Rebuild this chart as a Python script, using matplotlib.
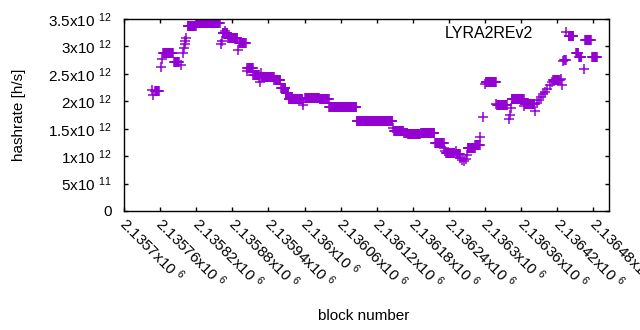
import numpy as np
import matplotlib
matplotlib.use("Agg")
import matplotlib.pyplot as plt

plt.rcParams['font.family'] = ['Liberation Sans', 'DejaVu Sans']
plt.rcParams['mathtext.fontset'] = 'custom'
plt.rcParams['mathtext.rm'] = 'Liberation Sans'
plt.rcParams['mathtext.it'] = 'Liberation Sans:italic'
plt.rcParams['mathtext.bf'] = 'Liberation Sans:bold'

# Run-length encoded data: first block of run, number of blocks, hashrate (x1e12 h/s)
run_start = [2135746, 2135749, 2135752, 2135761, 2135763, 2135765, 2135783, 2135794,
             2135798, 2135799, 2135801, 2135802, 2135803, 2135806, 2135820, 2135861,
             2135863, 2135864, 2135868, 2135869, 2135873, 2135889, 2135891, 2135904,
             2135905, 2135915, 2135925, 2135926, 2135927, 2135929, 2135950, 2135961,
             2135969, 2135974, 2135997, 2135998, 2136001, 2136025, 2136041, 2136087,
             2136147, 2136149, 2136166, 2136172, 2136194, 2136217, 2136232, 2136234,
             2136235, 2136251, 2136252, 2136259, 2136262, 2136265, 2136268, 2136270,
             2136271, 2136284, 2136292, 2136297, 2136300, 2136301, 2136319, 2136320,
             2136339, 2136341, 2136343, 2136344, 2136365, 2136366, 2136383, 2136386,
             2136389, 2136393, 2136396, 2136399, 2136403, 2136408, 2136411, 2136413,
             2136427, 2136428, 2136429, 2136432, 2136435, 2136439, 2136451, 2136456,
             2136464, 2136466, 2136478]
run_len = [1, 1, 7, 1, 1, 17, 9, 1,
           1, 1, 1, 1, 1, 14, 40, 1,
           1, 4, 1, 4, 16, 1, 12, 1,
           10, 10, 1, 1, 1, 21, 11, 8,
           5, 23, 1, 1, 24, 16, 46, 60,
           1, 16, 6, 21, 23, 15, 1, 1,
           15, 1, 7, 1, 1, 1, 1, 1,
           13, 8, 1, 1, 1, 18, 1, 17,
           1, 1, 1, 21, 1, 17, 1, 1,
           1, 1, 1, 1, 1, 1, 1, 12,
           1, 1, 1, 3, 1, 9, 5, 5,
           1, 11, 9]
run_rate = [2.21, 2.12, 2.19, 2.62, 2.77, 2.88, 2.72, 2.66,
            2.88, 2.97, 3.04, 3.10, 3.15, 3.37, 3.43, 3.04,
            3.10, 3.24, 3.28, 3.24, 3.15, 2.94, 3.06, 2.55,
            2.60, 2.48, 2.42, 2.35, 2.52, 2.45, 2.38, 2.24,
            2.16, 2.05, 1.93, 1.99, 2.065, 2.04, 1.89, 1.64,
            1.51, 1.46, 1.43, 1.40, 1.43, 1.245, 1.14, 1.09,
            1.06, 1.10, 1.04, 0.97, 0.93, 0.91, 0.95, 1.02,
            1.15, 1.20, 1.355, 1.71, 2.32, 2.35, 1.95, 1.93,
            1.68, 1.75, 1.88, 2.04, 1.92, 1.95, 1.82, 1.97,
            2.02, 2.08, 2.13, 2.17, 2.22, 2.30, 2.35, 2.39,
            2.41, 2.30, 2.73, 2.75, 3.27, 3.19, 2.875, 2.80,
            2.59, 3.12, 2.80]

xtick_values = [2135700, 2135760, 2135820, 2135880, 2135940, 2136000, 2136060,
                2136120, 2136180, 2136240, 2136300, 2136360, 2136420, 2136480]
xtick_labels = ["2.1357x10 $^{6}$", "2.13576x10 $^{6}$", "2.13582x10 $^{6}$", "2.13588x10 $^{6}$",
                "2.13594x10 $^{6}$", "2.136x10 $^{6}$", "2.13606x10 $^{6}$", "2.13612x10 $^{6}$",
                "2.13618x10 $^{6}$", "2.13624x10 $^{6}$", "2.1363x10 $^{6}$", "2.13636x10 $^{6}$",
                "2.13642x10 $^{6}$", "2.13648x10 $^{6}$"]
ytick_values = [0, 0.5e12, 1e12, 1.5e12, 2e12, 2.5e12, 3e12, 3.5e12]
ytick_labels = ["0", "5x10 $^{11}$", "1x10 $^{12}$", "1.5x10 $^{12}$", "2x10 $^{12}$",
                "2.5x10 $^{12}$", "3x10 $^{12}$", "3.5x10 $^{12}$"]

blocks = np.concatenate([np.arange(s, s + n) for s, n in zip(run_start, run_len)])
rates = np.concatenate([np.full(n, r * 1e12) for n, r in zip(run_len, run_rate)])

fig = plt.figure(figsize=(6.4, 3.3), dpi=100)
ax = fig.add_axes([124/640, 1 - 211/330, (609-124)/640, (211-19)/330])

color = '#9400D3'
ax.plot(blocks, rates, linestyle='none', marker='+', color=color,
        markersize=6.5, markeredgewidth=1.1)

ax.set_xlim(2135700, 2136506)
ax.set_ylim(0, 3.5e12)

ax.set_xticks(xtick_values)
ax.set_xticklabels(xtick_labels, rotation=-45, ha='left', va='center_baseline',
                   rotation_mode='anchor', fontsize=11)
ax.set_yticks(ytick_values)
ax.set_yticklabels(ytick_labels, fontsize=11)

ax.tick_params(direction='in', length=3, width=1, top=True, right=True,
               colors='black')
ax.tick_params(axis='x', pad=6)
ax.tick_params(axis='y', pad=9)
for sp in ax.spines.values():
    sp.set_linewidth(1)

ax.set_xlabel('block number', fontsize=11)
ax.set_ylabel('hashrate [h/s]', fontsize=11)
ax.xaxis.set_label_coords(0.494, -0.51)
ax.yaxis.set_label_coords(-0.203, 0.5)

ax.text(0.843, 0.927, 'LYRA2REv2', transform=ax.transAxes, ha='right', va='center',
        fontsize=11.5)

fig.savefig('out.png', dpi=100)
